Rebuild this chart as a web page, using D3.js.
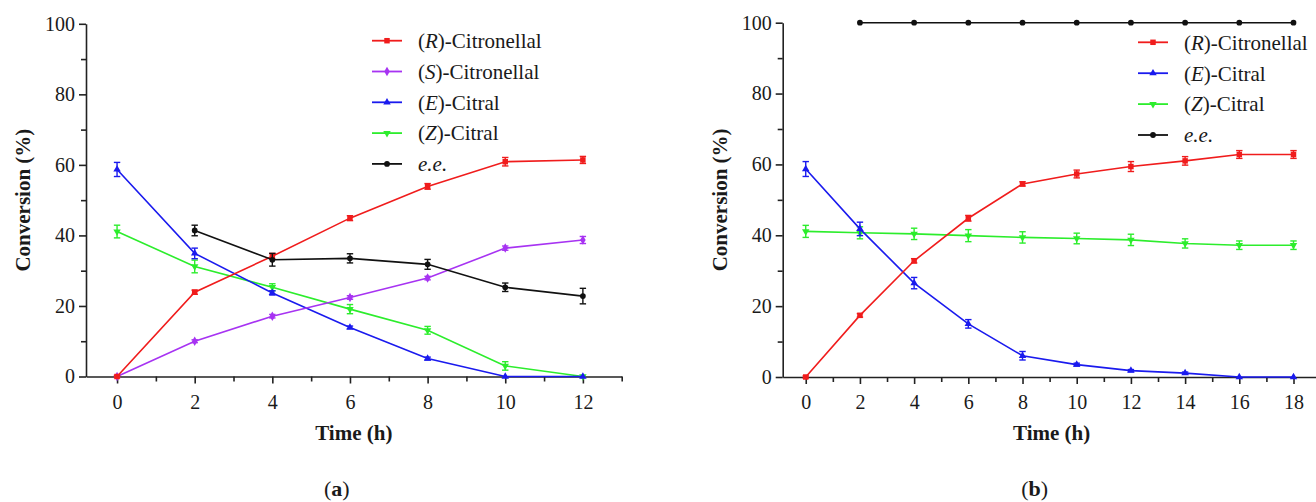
<!DOCTYPE html>
<html>
<head>
<meta charset="utf-8">
<script src="https://cdn.jsdelivr.net/npm/d3@7/dist/d3.min.js"></script>
<style>
  html, body { margin: 0; padding: 0; background: #fff; }
  svg { display: block; font-family: "Liberation Serif", serif; }
  svg text, svg tspan { font-family: "Liberation Serif", serif !important; }
</style>
</head>
<body>
<svg id="chart" width="1316" height="502"></svg>
<script>
// ---------------- DATA ----------------
// Panel (a)
const timeA = [0, 2, 4, 6, 8, 10, 12];
const rCitronellalA = [0, 23.9, 34.1, 44.9, 53.9, 60.9, 61.4];
const rCitronellalErrA = [0.3, 0.6, 0.8, 0.7, 0.8, 1.2, 1.0];
const sCitronellalA = [0, 10.0, 17.1, 22.4, 27.9, 36.4, 38.7];
const sCitronellalErrA = [0.3, 0.4, 0.5, 0.5, 0.5, 0.6, 1.0];
const eCitralA = [58.7, 34.9, 23.7, 13.9, 5.1, 0, 0];
const eCitralErrA = [2.0, 1.5, 0.6, 0.4, 0.4, 0, 0];
const zCitralA = [41.1, 31.2, 25.3, 19.1, 13.1, 3.0, 0];
const zCitralErrA = [1.8, 1.8, 1.0, 1.3, 1.1, 1.2, 0];
const timeEeA = [2, 4, 6, 8, 10, 12];
const eeA = [41.4, 33.1, 33.5, 31.8, 25.3, 22.8];
const eeErrA = [1.5, 1.8, 1.3, 1.4, 1.2, 2.2];

// Panel (b)
const timeB = [0, 2, 4, 6, 8, 10, 12, 14, 16, 18];
const rCitronellalB = [0, 17.4, 32.8, 44.8, 54.5, 57.3, 59.4, 61.0, 62.8, 62.8];
const rCitronellalErrB = [0.3, 0.5, 0.6, 0.8, 0.6, 1.1, 1.4, 1.2, 1.1, 1.1];
const eCitralB = [58.7, 41.8, 26.5, 15.0, 6.0, 3.5, 1.8, 1.1, 0, 0];
const eCitralErrB = [2.1, 1.9, 1.6, 1.2, 1.2, 0.4, 0.3, 0.3, 0, 0];
const zCitralB = [41.1, 40.7, 40.4, 39.9, 39.4, 39.1, 38.7, 37.7, 37.2, 37.2];
const zCitralErrB = [1.7, 1.7, 1.6, 1.7, 1.6, 1.5, 1.6, 1.3, 1.2, 1.2];
const timeEeB = [2, 4, 6, 8, 10, 12, 14, 16, 18];
const eeB = [100, 100, 100, 100, 100, 100, 100, 100, 100];
const eeErrB = [0, 0, 0, 0, 0, 0, 0, 0, 0];

// Ticks
const yTicks = [0, 20, 40, 60, 80, 100];
const yMinorTicks = [10, 30, 50, 70, 90];
const xTicksA = [0, 2, 4, 6, 8, 10, 12];
const xMinorTicksA = [1, 3, 5, 7, 9, 11, 13];
const xTicksB = [0, 2, 4, 6, 8, 10, 12, 14, 16, 18];
const xMinorTicksB = [1, 3, 5, 7, 9, 11, 13, 15, 17, 19];

// Labels
const yTitle = "Conversion (%)";
const xTitle = "Time (h)";
const panelLabels = ["a", "b"];

// ---------------- STYLE ----------------
const FONT = '"Liberation Serif", serif';
const COLORS = { R: "#f01c1c", S: "#a733f2", E: "#1a1aee", Z: "#2ced2c", ee: "#111111" };
const SYMBOLS = {
  R: { type: d3.symbolSquare, size: 30, rot: 0 },
  S: { type: d3.symbolDiamond, size: 26, rot: 0 },
  E: { type: d3.symbolTriangle, size: 24, rot: 0 },
  Z: { type: d3.symbolTriangle, size: 24, rot: 180 },
  ee: { type: d3.symbolCircle, size: 26, rot: 0 }
};

const svg = d3.select("#chart");
svg.append("rect").attr("width", 1316).attr("height", 502).attr("fill", "#fff");

function panel(cfg) {
  const g = svg.append("g");
  const x = d3.scaleLinear().domain(cfg.xDomain).range(cfg.xRange);
  const y = d3.scaleLinear().domain([0, 100]).range(cfg.yRange);

  // minor ticks
  g.append("g").attr("transform", `translate(0,${cfg.yRange[0]})`)
    .call(d3.axisBottom(x).tickValues(cfg.xMinor).tickSize(5).tickSizeOuter(0).tickFormat(""))
    .call(s => s.select(".domain").remove());
  g.append("g").attr("transform", `translate(${cfg.xRange[0]},0)`)
    .call(d3.axisLeft(y).tickValues(yMinorTicks).tickSize(5).tickSizeOuter(0).tickFormat(""))
    .call(s => s.select(".domain").remove());

  // major axes
  const xa = g.append("g").attr("transform", `translate(0,${cfg.yRange[0]})`)
    .call(d3.axisBottom(x).tickValues(cfg.xTicks).tickSize(7).tickPadding(11).tickSizeOuter(0));
  const ya = g.append("g").attr("transform", `translate(${cfg.xRange[0]},0)`)
    .call(d3.axisLeft(y).tickValues(yTicks).tickSize(7).tickPadding(4).tickSizeOuter(0));
  [xa, ya].forEach(a => {
    a.attr("font-family", FONT).attr("font-size", 20);
    a.selectAll("text").style("font-family", FONT).style("font-size", "20px").attr("fill", "#1a1a1a");
  });
  g.selectAll(".domain, .tick line").attr("stroke", "#222").attr("stroke-width", 1.6);

  // axis titles
  g.append("text")
    .attr("transform", `translate(${cfg.xRange[0] - 63.5},${(cfg.yRange[0] + cfg.yRange[1]) / 2}) rotate(-90)`)
    .attr("text-anchor", "middle").attr("dy", "0.35em").attr("fill", "#1a1a1a")
    .style("font-family", FONT).style("font-size", "21px").style("font-weight", "bold").text(yTitle);
  const xMid = (cfg.xRange[0] + cfg.xRange[1]) / 2;
  g.append("text").attr("x", xMid).attr("y", 433).attr("dy", "0.35em").attr("fill", "#1a1a1a")
    .attr("text-anchor", "middle").style("font-family", FONT).style("font-size", "21px")
    .style("font-weight", "bold").text(xTitle);

  // panel label (a)/(b)
  const pl = g.append("text").attr("x", xMid - 17).attr("y", 488).attr("dy", "0.35em").attr("fill", "#1a1a1a")
    .attr("text-anchor", "middle").style("font-family", FONT).style("font-size", "22px");
  pl.append("tspan").text("(");
  pl.append("tspan").style("font-weight", "bold").text(cfg.label);
  pl.append("tspan").text(")");

  // series
  const line = d3.line().x(d => x(d.t)).y(d => y(d.v));
  cfg.series.forEach(s => {
    const pts = s.t.map((t, i) => ({ t, v: s.v[i], e: s.e[i] }));
    const sg = g.append("g");
    sg.append("path").datum(pts).attr("d", line)
      .attr("fill", "none").attr("stroke", COLORS[s.key]).attr("stroke-width", 1.6);
    // error bars
    pts.filter(p => p.e > 0.25).forEach(p => {
      const cx = x(p.t), y1 = y(p.v + p.e), y2 = y(p.v - p.e);
      sg.append("line").attr("x1", cx).attr("x2", cx).attr("y1", y1).attr("y2", y2)
        .attr("stroke", COLORS[s.key]).attr("stroke-width", 1.4);
      [y1, y2].forEach(yy => sg.append("line").attr("x1", cx - 3.2).attr("x2", cx + 3.2)
        .attr("y1", yy).attr("y2", yy).attr("stroke", COLORS[s.key]).attr("stroke-width", 1.4));
    });
    const sym = SYMBOLS[s.key];
    sg.selectAll("path.m").data(pts).join("path").attr("class", "m")
      .attr("d", d3.symbol().type(sym.type).size(sym.size))
      .attr("transform", d => `translate(${x(d.t)},${y(d.v)}) rotate(${sym.rot})`)
      .attr("fill", COLORS[s.key]);
  });

  // legend
  const lg = g.append("g");
  cfg.legend.forEach((it, i) => {
    const ly = cfg.legendY + i * cfg.legendDy;
    lg.append("line").attr("x1", cfg.legendX).attr("x2", cfg.legendX + 30)
      .attr("y1", ly).attr("y2", ly).attr("stroke", COLORS[it.key]).attr("stroke-width", 1.8);
    const sym = SYMBOLS[it.key];
    lg.append("path").attr("d", d3.symbol().type(sym.type).size(sym.size))
      .attr("transform", `translate(${cfg.legendX + 15},${ly}) rotate(${sym.rot})`)
      .attr("fill", COLORS[it.key]);
    const t = lg.append("text").attr("x", cfg.legendX + 46).attr("y", ly).attr("dy", "0.35em")
      .attr("fill", "#1a1a1a").style("font-family", FONT).style("font-size", "21px");
    it.parts.forEach(p => t.append("tspan").style("font-family", FONT)
      .style("font-style", p.i ? "italic" : "normal").text(p.s));
  });
}

const LEG = {
  R: { key: "R", parts: [{ s: "(" }, { s: "R", i: true }, { s: ")-Citronellal" }] },
  S: { key: "S", parts: [{ s: "(" }, { s: "S", i: true }, { s: ")-Citronellal" }] },
  E: { key: "E", parts: [{ s: "(" }, { s: "E", i: true }, { s: ")-Citral" }] },
  Z: { key: "Z", parts: [{ s: "(" }, { s: "Z", i: true }, { s: ")-Citral" }] },
  ee: { key: "ee", parts: [{ s: "e.e.", i: true }] }
};

panel({
  xDomain: [-0.8, 13], xRange: [86, 621.7], yRange: [376.5, 23.8],
  xTicks: xTicksA, xMinor: xMinorTicksA, label: panelLabels[0],
  series: [
    { key: "Z", t: timeA, v: zCitralA, e: zCitralErrA },
    { key: "E", t: timeA, v: eCitralA, e: eCitralErrA },
    { key: "S", t: timeA, v: sCitronellalA, e: sCitronellalErrA },
    { key: "R", t: timeA, v: rCitronellalA, e: rCitronellalErrA },
    { key: "ee", t: timeEeA, v: eeA, e: eeErrA }
  ],
  legend: [LEG.R, LEG.S, LEG.E, LEG.Z, LEG.ee],
  legendX: 372, legendY: 40.7, legendDy: 30.8
});

panel({
  xDomain: [-0.85, 19], xRange: [782.7, 1320.6], yRange: [377, 22.7],
  xTicks: xTicksB, xMinor: xMinorTicksB, label: panelLabels[1],
  series: [
    { key: "Z", t: timeB, v: zCitralB, e: zCitralErrB },
    { key: "E", t: timeB, v: eCitralB, e: eCitralErrB },
    { key: "R", t: timeB, v: rCitronellalB, e: rCitronellalErrB },
    { key: "ee", t: timeEeB, v: eeB, e: eeErrB }
  ],
  legend: [LEG.R, LEG.E, LEG.Z, LEG.ee],
  legendX: 1138, legendY: 42.3, legendDy: 30.9
});
</script>
</body>
</html>
